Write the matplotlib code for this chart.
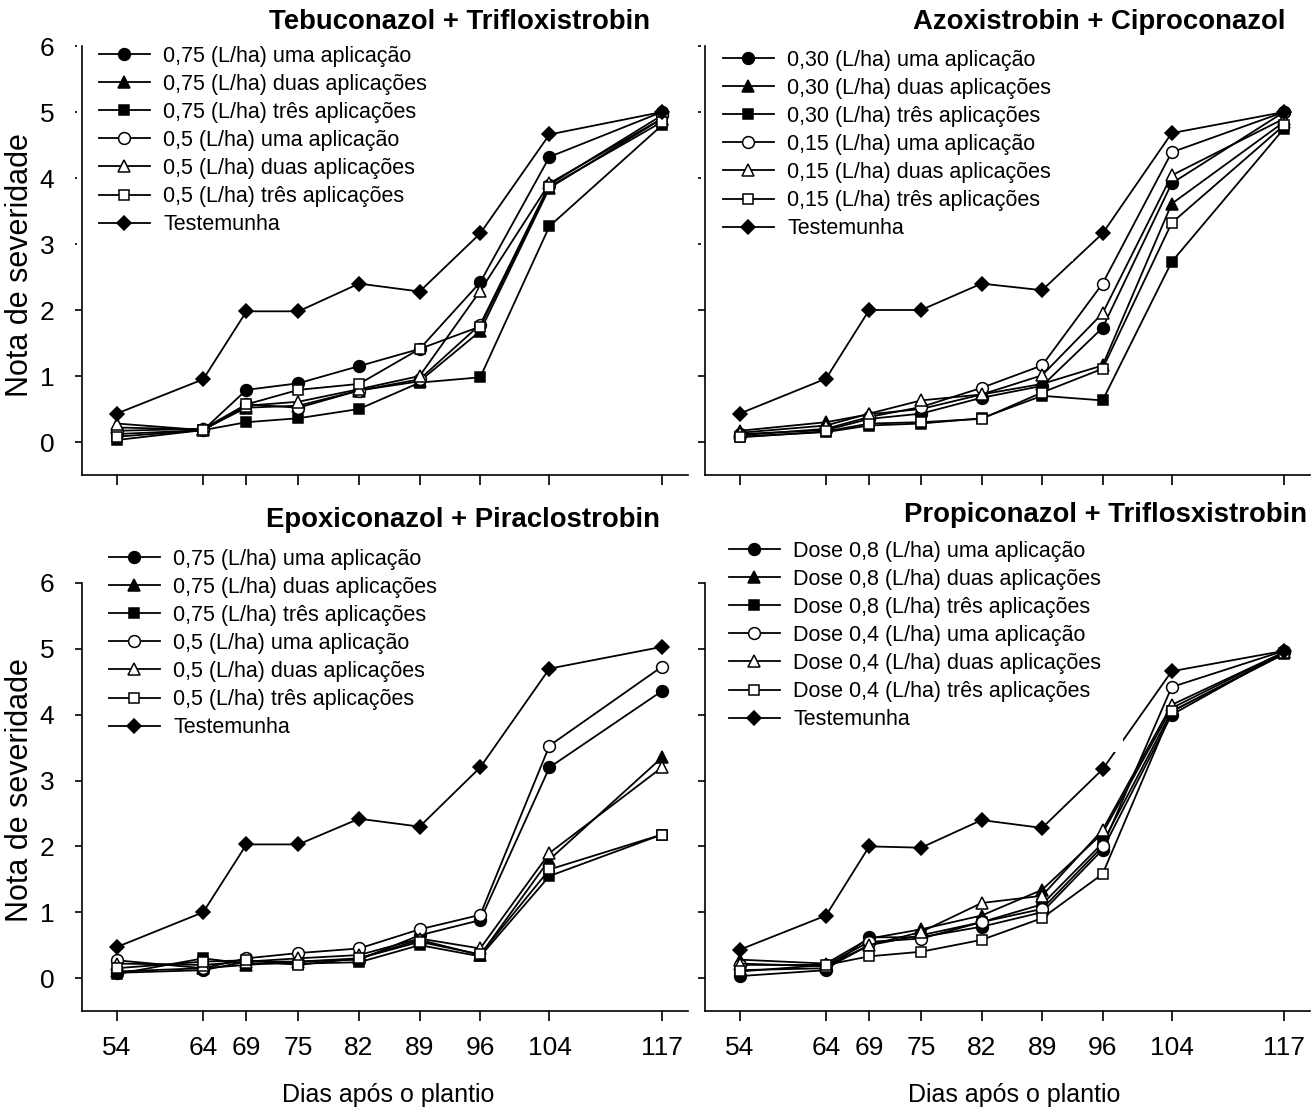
import matplotlib
matplotlib.use('Agg')
import matplotlib.pyplot as plt

plt.rcParams['font.family'] = ['Liberation Sans', 'DejaVu Sans']

# dias apos o plantio
dias = [54, 64, 69, 75, 82, 89, 96, 104, 117]

# Tebuconazol + Trifloxistrobin
teb_075_uma = [0.12, 0.18, 0.79, 0.89, 1.15, 1.41, 2.42, 4.32, 5.0]
teb_075_duas = [0.22, 0.19, 0.52, 0.55, 0.78, 0.92, 1.68, 3.85, 4.9]
teb_075_tres = [0.03, 0.18, 0.30, 0.36, 0.50, 0.90, 0.98, 3.27, 4.8]
teb_05_uma = [0.17, 0.20, 0.57, 0.52, 0.78, 0.95, 1.78, 3.90, 4.95]
teb_05_duas = [0.28, 0.18, 0.55, 0.61, 0.80, 1.00, 2.29, 3.92, 4.9]
teb_05_tres = [0.08, 0.18, 0.57, 0.79, 0.88, 1.41, 1.75, 3.87, 4.85]
teb_test = [0.43, 0.95, 1.98, 1.98, 2.40, 2.28, 3.16, 4.66, 5.0]

# Azoxistrobin + Ciproconazol
azo_030_uma = [0.12, 0.18, 0.35, 0.43, 0.67, 0.85, 1.73, 3.92, 5.0]
azo_030_duas = [0.17, 0.30, 0.42, 0.50, 0.72, 0.88, 1.16, 3.61, 4.85]
azo_030_tres = [0.08, 0.15, 0.25, 0.28, 0.36, 0.70, 0.63, 2.73, 4.75]
azo_015_uma = [0.10, 0.20, 0.38, 0.53, 0.82, 1.16, 2.40, 4.39, 5.0]
azo_015_duas = [0.14, 0.25, 0.43, 0.63, 0.72, 1.01, 1.95, 4.04, 4.9]
azo_015_tres = [0.07, 0.16, 0.28, 0.30, 0.35, 0.75, 1.11, 3.32, 4.8]
azo_test = [0.43, 0.96, 2.0, 2.0, 2.40, 2.30, 3.16, 4.68, 5.0]

# Epoxiconazol + Piraclostrobin
epo_075_uma = [0.08, 0.12, 0.25, 0.25, 0.28, 0.65, 0.88, 3.20, 4.36]
epo_075_duas = [0.10, 0.15, 0.20, 0.25, 0.30, 0.58, 0.35, 1.80, 3.35]
epo_075_tres = [0.06, 0.30, 0.22, 0.22, 0.24, 0.50, 0.33, 1.55, 2.18]
epo_05_uma = [0.27, 0.15, 0.30, 0.38, 0.45, 0.74, 0.96, 3.53, 4.73]
epo_05_duas = [0.22, 0.20, 0.25, 0.30, 0.35, 0.60, 0.45, 1.90, 3.20]
epo_05_tres = [0.15, 0.25, 0.27, 0.20, 0.30, 0.55, 0.36, 1.65, 2.18]
epo_test = [0.47, 1.0, 2.03, 2.03, 2.42, 2.30, 3.20, 4.70, 5.03]

# Propiconazol + Triflosxistrobin
pro_08_uma = [0.03, 0.12, 0.62, 0.62, 0.78, 1.00, 1.95, 4.00, 4.95]
pro_08_duas = [0.28, 0.22, 0.60, 0.74, 0.95, 1.34, 2.20, 4.10, 4.95]
pro_08_tres = [0.12, 0.15, 0.50, 0.65, 0.85, 1.12, 2.05, 4.05, 4.92]
pro_04_uma = [0.20, 0.20, 0.55, 0.60, 0.85, 1.05, 2.00, 4.42, 4.97]
pro_04_duas = [0.22, 0.18, 0.50, 0.70, 1.14, 1.25, 2.25, 4.15, 4.95]
pro_04_tres = [0.10, 0.20, 0.33, 0.40, 0.58, 0.91, 1.58, 4.05, 4.93]
pro_test = [0.43, 0.95, 2.0, 1.98, 2.40, 2.28, 3.17, 4.66, 4.97]

labels_teb = ['0,75 (L/ha) uma aplicação', '0,75 (L/ha) duas aplicações',
              '0,75 (L/ha) três aplicações', '0,5 (L/ha) uma aplicação',
              '0,5 (L/ha) duas aplicações', '0,5 (L/ha) três aplicações',
              'Testemunha']
labels_azo = ['0,30 (L/ha) uma aplicação', '0,30 (L/ha) duas aplicações',
              '0,30 (L/ha) três aplicações', '0,15 (L/ha) uma aplicação',
              '0,15 (L/ha) duas aplicações', '0,15 (L/ha) três aplicações',
              'Testemunha']
labels_pro = ['Dose 0,8 (L/ha) uma aplicação', 'Dose 0,8 (L/ha) duas aplicações',
              'Dose 0,8 (L/ha) três aplicações', 'Dose 0,4 (L/ha) uma aplicação',
              'Dose 0,4 (L/ha) duas aplicações', 'Dose 0,4 (L/ha) três aplicações',
              'Testemunha']

markers = ['o', '^', 's', 'o', '^', 's', 'D']
faces = ['black', 'black', 'black', 'white', 'white', 'white', 'black']
sizes = [8.5, 8.5, 7.5, 8.5, 8.5, 7.5, 7.5]

W, H = 1316, 1113


# pixel helpers (reference image coords -> figure fraction)
def fx(x):
    return x / W


def fy(y):
    return 1 - y / H


fig = plt.figure(figsize=(W / 100, H / 100), dpi=100)


def panel(rect, series, labels, title, title_xy, leg_xy, xlabels, ylabels):
    ax = fig.add_axes(rect)
    for i in range(len(series)):
        ax.plot(dias, series[i], color='black', lw=1.3, marker=markers[i],
                ms=sizes[i], mfc=faces[i], mec='black', mew=1.1, label=labels[i])
    ax.set_xlim(50, 120)
    ax.set_ylim(-0.5, 6)
    ax.set_xticks(dias)
    ax.set_yticks(range(0, 7))
    ax.spines['top'].set_visible(False)
    ax.spines['right'].set_visible(False)
    for s in ['left', 'bottom']:
        ax.spines[s].set_linewidth(1.2)
        ax.spines[s].set_zorder(6)
    ax.tick_params(axis='x', direction='out', length=7, width=1.2, labelsize=19, pad=11)
    ax.tick_params(axis='y', direction='out', length=5, width=1.2, labelsize=19, pad=15)
    if not xlabels:
        ax.tick_params(axis='x', labelbottom=False)
    if not ylabels:
        ax.tick_params(axis='y', labelleft=False)
    # white legend box hides the lines running under it, as in the original
    leg = ax.legend(loc='upper left', bbox_to_anchor=(fx(leg_xy[0]), fy(leg_xy[1])),
                    bbox_transform=fig.transFigure, borderaxespad=0, fontsize=15.5,
                    frameon=True, facecolor='white', edgecolor='none', framealpha=1,
                    fancybox=False, borderpad=1.0, labelspacing=0.33,
                    handlelength=2.4, handletextpad=0.6, numpoints=1)
    leg.set_zorder(5)
    fig.text(fx(title_xy[0]), fy(title_xy[1]), title, ha='center', va='center',
             fontsize=19.8, fontweight='bold')
    return ax


panel([fx(82), fy(475), 606 / W, 429 / H],
      [teb_075_uma, teb_075_duas, teb_075_tres, teb_05_uma, teb_05_duas, teb_05_tres, teb_test],
      labels_teb, 'Tebuconazol + Trifloxistrobin', (460, 22), (77, 24), False, True)
panel([fx(705), fy(475), 605 / W, 429 / H],
      [azo_030_uma, azo_030_duas, azo_030_tres, azo_015_uma, azo_015_duas, azo_015_tres, azo_test],
      labels_azo, 'Azoxistrobin + Ciproconazol', (1099, 22), (701, 28), False, False)
panel([fx(82), fy(1011), 606 / W, 428 / H],
      [epo_075_uma, epo_075_duas, epo_075_tres, epo_05_uma, epo_05_duas, epo_05_tres, epo_test],
      labels_teb, 'Epoxiconazol + Piraclostrobin', (463, 520), (87, 527), True, True)
panel([fx(705), fy(1011), 605 / W, 428 / H],
      [pro_08_uma, pro_08_duas, pro_08_tres, pro_04_uma, pro_04_duas, pro_04_tres, pro_test],
      labels_pro, 'Propiconazol + Triflosxistrobin', (1106, 515), (707, 519), True, False)

fig.text(fx(20), fy(265), 'Nota de severidade', rotation=90, ha='center', va='center', fontsize=22)
fig.text(fx(20), fy(790), 'Nota de severidade', rotation=90, ha='center', va='center', fontsize=22)
fig.text(fx(388), fy(1095), 'Dias após o plantio', ha='center', va='center', fontsize=18)
fig.text(fx(1014), fy(1095), 'Dias após o plantio', ha='center', va='center', fontsize=18)

fig.savefig('out.png', dpi=100)
